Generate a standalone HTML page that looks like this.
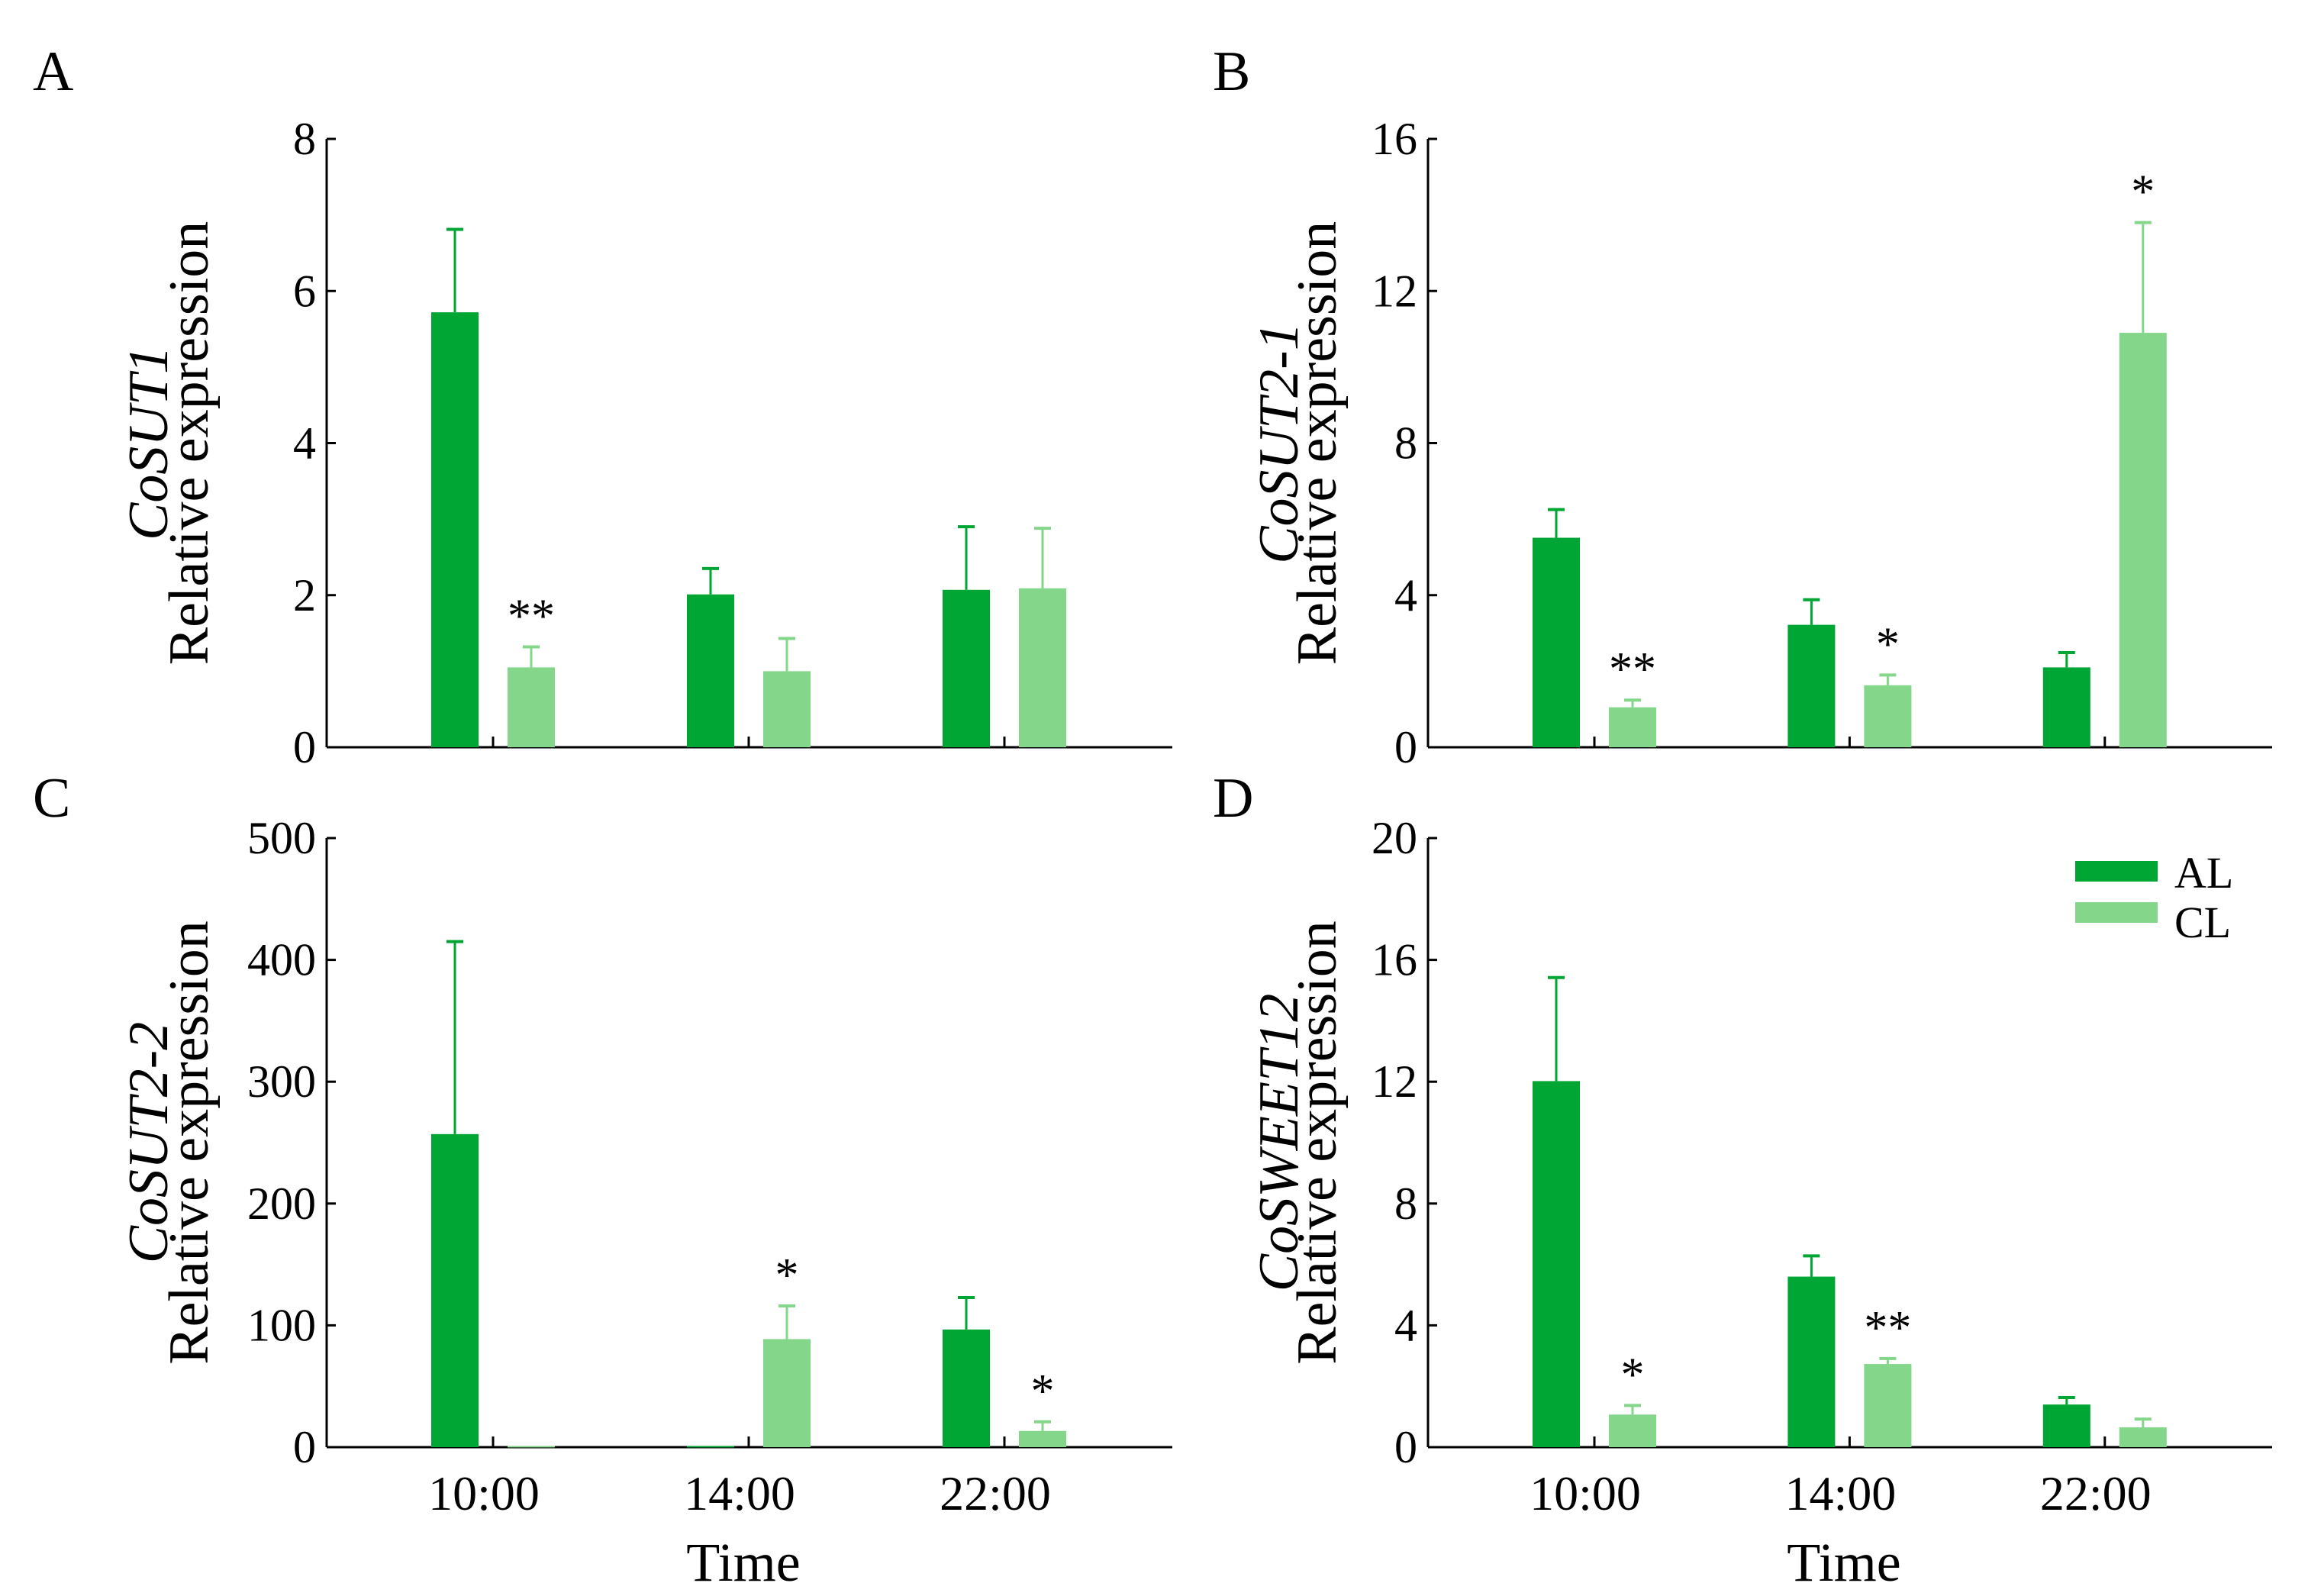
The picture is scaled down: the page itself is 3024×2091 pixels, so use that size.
<!DOCTYPE html>
<html><head><meta charset="utf-8"><style>
html,body{margin:0;padding:0;background:#fff}
svg{display:block;font-family:"Liberation Serif",serif}
</style></head><body>
<svg id="fig" width="3024" height="2091" viewBox="0 0 3024 2091" xmlns="http://www.w3.org/2000/svg"></svg>
<script>
const categories = ["10:00","14:00","22:00"];
const sutA_AL = [5.72,2.01,2.07], sutA_ALerr = [1.09,0.34,0.83];
const sutA_CL = [1.05,1.0,2.09], sutA_CLerr = [0.27,0.43,0.79];
const sutA_stars = [["","**"],["",""],["",""]];
const sutB_AL = [5.51,3.22,2.1], sutB_ALerr = [0.74,0.66,0.39];
const sutB_CL = [1.05,1.63,10.9], sutB_CLerr = [0.19,0.27,2.9];
const sutB_stars = [["","**"],["","*"],["","*"]];
const sutC_AL = [257,1,96.6], sutC_ALerr = [158,0,26.2];
const sutC_CL = [1,88.7,13.3], sutC_CLerr = [0,27.3,7.5];
const sutC_stars = [["",""],["","*"],["","*"]];
const sweD_AL = [12.02,5.6,1.4], sweD_ALerr = [3.4,0.68,0.23];
const sweD_CL = [1.07,2.73,0.65], sweD_CLerr = [0.3,0.18,0.27];
const sweD_stars = [["","*"],["","**"],["",""]];
const ticksA = [0,2,4,6,8], ticksB = [0,4,8,12,16], ticksC = [0,100,200,300,400,500], ticksD = [0,4,8,12,16,20];

const NS="http://www.w3.org/2000/svg";
const svg=document.getElementById('fig');
const AL="#00a633", CL="#84d68a";
function mk(tag,attrs,parent){const e=document.createElementNS(NS,tag);for(const k in attrs)e.setAttribute(k,attrs[k]);(parent||svg).appendChild(e);return e;}

const panels=[
 {letter:"A",lx:43,ly:118,ax:428,y0:979,y1:182,x1:1536,ticks:ticksA,max:8,gene:"CoSUT1",al:sutA_AL,ale:sutA_ALerr,cl:sutA_CL,cle:sutA_CLerr,stars:sutA_stars,xl:false,gb:219,rb:272},
 {letter:"B",lx:1589,ly:118,ax:1871,y0:979,y1:182,x1:2977,ticks:ticksB,max:16,gene:"CoSUT2-1",al:sutB_AL,ale:sutB_ALerr,cl:sutB_CL,cle:sutB_CLerr,stars:sutB_stars,xl:false,gb:1700,rb:1750},
 {letter:"C",lx:43,ly:1070,ax:428,y0:1896,y1:1098,x1:1536,ticks:ticksC,max:500,gene:"CoSUT2-2",al:sutC_AL,ale:sutC_ALerr,cl:sutC_CL,cle:sutC_CLerr,stars:sutC_stars,xl:true,gb:219,rb:272},
 {letter:"D",lx:1589,ly:1070,ax:1871,y0:1896,y1:1098,x1:2977,ticks:ticksD,max:20,gene:"CoSWEET12",al:sweD_AL,ale:sweD_ALerr,cl:sweD_CL,cle:sweD_CLerr,stars:sweD_stars,xl:true,gb:1700,rb:1750}
];

panels.forEach((p,pi)=>{
  const g=mk('g',{});
  
  
  const yS=v=>p.y0-(v/p.max)*(p.y0-p.y1);
  const gStart=p.ax+137;
  const gx=i=>gStart+i*335*(p.x1-p.ax)/1108;
  const bw=62;
  const lt=mk('text',{x:p.lx,y:p.ly,'font-size':74},g);lt.textContent=p.letter;
  
  
  const ya=mk('line',{x1:p.ax,y1:p.y1,x2:p.ax,y2:p.y0,stroke:"#000","stroke-width":3},g);
  
  
  const xa=mk('line',{x1:p.ax,y1:p.y0,x2:p.x1,y2:p.y0,stroke:"#000","stroke-width":3},g);
  
  
  p.ticks.forEach(t=>{
    const y=yS(t);
    mk('line',{x1:p.ax,y1:y,x2:p.ax+12,y2:y,stroke:"#000","stroke-width":3},g);
    const tx=mk('text',{x:p.ax-14,y:y+20,'font-size':60,'text-anchor':'end'},g);
    tx.textContent=t;
    
    
  });
  const cy=(p.y0+p.y1)/2;
  const yt=mk('text',{transform:`translate(${p.gb},${cy}) rotate(-90)`,'font-size':74,'text-anchor':'middle','font-style':'italic'},g);
  yt.textContent=p.gene;
  
  
  const yr=mk('text',{transform:`translate(${p.rb},${cy}) rotate(-90)`,'font-size':74,'text-anchor':'middle'},g);
  yr.textContent="Relative expression";
  
  
  categories.forEach((c,i)=>{
    const x0=gx(i);
    const tick=x0+81;
    mk('line',{x1:tick,y1:p.y0,x2:tick,y2:p.y0-14,stroke:"#000","stroke-width":3},g);
    [[p.al,p.ale,AL,0],[p.cl,p.cle,CL,100]].forEach(([vals,errs,col,off],si)=>{
      const v=vals[i], e=errs[i];
      const bx=x0+off, top=yS(v);
      const r=mk('rect',{x:bx,y:top,width:bw,height:Math.max(p.y0-top,2),fill:col},g);
      
      
      if(e>0){
        const et=yS(v+e), cx=bx+bw/2;
        mk('line',{x1:cx,y1:top,x2:cx,y2:et,stroke:col,"stroke-width":3},g);
        mk('line',{x1:cx-11,y1:et,x2:cx+11,y2:et,stroke:col,"stroke-width":4},g);
      }
      const s=p.stars[i][si];
      if(s){
        const st=mk('text',{x:bx+bw/2,y:yS(v+e)-20,'font-size':62,'text-anchor':'middle'},g);
        st.textContent=s;
        
        
      }
    });
    if(p.xl){
      const xl=mk('text',{x:tick-12,y:p.y0+82,'font-size':64,'text-anchor':'middle'},g);
      xl.textContent=c;
      
      
    }
  });
  if(p.xl){
    const tt=mk('text',{x:(p.ax+p.x1)/2-8,y:p.y0+175,'font-size':72,'text-anchor':'middle'},g);
    tt.textContent="Time";
    
    
  }
});
const lg=mk('g',{});


const r1=mk('rect',{x:2719,y:1128,width:108,height:27,fill:AL},lg);


const t1=mk('text',{x:2849,y:1163,'font-size':58},lg);t1.textContent="AL";


const r2=mk('rect',{x:2719,y:1182,width:108,height:27,fill:CL},lg);


const t2=mk('text',{x:2849,y:1228,'font-size':58},lg);t2.textContent="CL";


</script>
</body></html>
